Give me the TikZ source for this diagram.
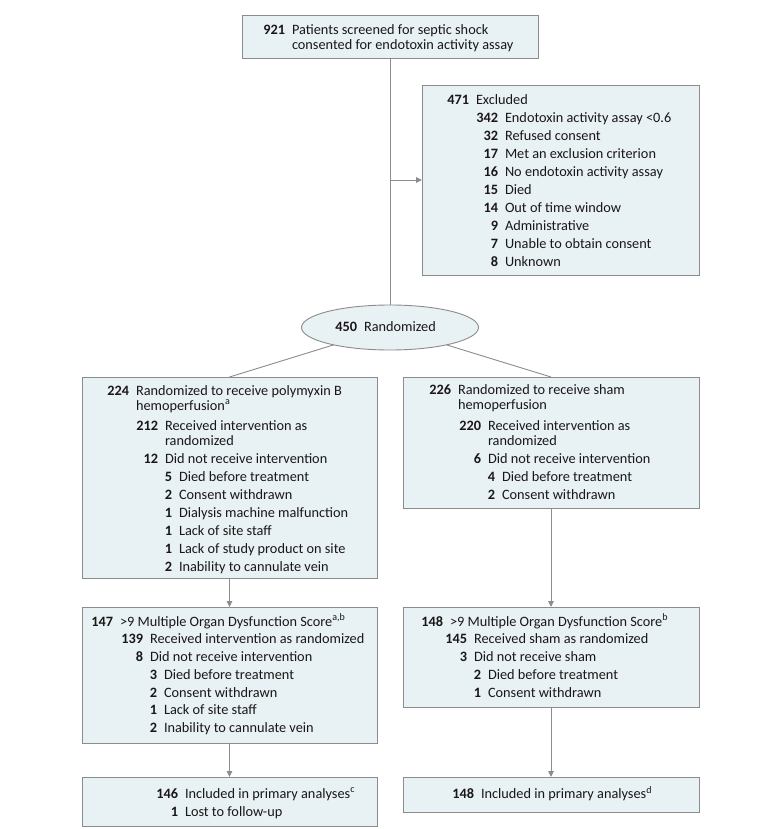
\documentclass[tikz,border=0pt]{standalone}
\usepackage{fontspec}
\setmainfont{Carlito}
\usetikzlibrary{arrows.meta,shapes.geometric}
\definecolor{boxfill}{HTML}{E8F1F4}
\definecolor{boxdraw}{HTML}{8C8C8C}
\definecolor{linec}{HTML}{8C8C8C}
\definecolor{textc}{HTML}{1A1718}
\newcommand\fsz{\fontsize{14.3pt}{17.9pt}\selectfont}
\newcommand\ent[5]{\node[txt] (#1) at (#2-31,#3) {\makebox[24pt][r]{\textbf{#4}}\hspace{7pt}#5};}
\newcommand\cont[4]{\node[txt] (#1) at (#2,#3) {#4};}
\begin{document}
\begin{tikzpicture}[x=1pt,y=-1pt,
  box/.style={draw=boxdraw, fill=boxfill, line width=0.9pt, inner sep=0pt, outer sep=0pt},
  txt/.style={inner sep=0pt, outer sep=0pt, anchor=base west, font=\fsz, text=textc},
  link/.style={draw=linec, line width=0.9pt},
  arr/.style={link, -{Triangle[length=6pt,width=5.5pt]}}]
\useasboundingbox (0,0) rectangle (780,829);
\fill[white] (0,0) rectangle (780,829);

% boxes
\node[box, minimum width=296pt, minimum height=43pt] (screen) at (390,36.5) {};
\node[box, minimum width=277pt, minimum height=190pt] (excl) at (560.5,180) {};
\node[box, ellipse, minimum width=177pt, minimum height=45pt] (rand) at (390,327.5) {};
\node[box, minimum width=295pt, minimum height=201pt] (lb1) at (229.5,477.5) {};
\node[box, minimum width=296pt, minimum height=131pt] (rb1) at (551,442.5) {};
\node[box, minimum width=295pt, minimum height=136pt] (lb2) at (229.5,675) {};
\node[box, minimum width=296pt, minimum height=100pt] (rb2) at (551,657) {};
\node[box, minimum width=295pt, minimum height=49pt] (lb3) at (229.5,801.5) {};
\node[box, minimum width=296pt, minimum height=35pt] (rb3) at (551,794.5) {};

% connectors
\draw[link] (screen.south) -- (rand.north);
\coordinate (exsplit) at (screen.south |- excl.west);
\draw[arr] (exsplit) -- (excl.west);
\draw[link] (rand) -- (lb1.north);
\draw[link] (rand) -- (rb1.north);
\draw[arr] (lb1.south) -- (lb2.north);
\draw[arr] (rb1.south) -- (rb2.north);
\draw[arr] (lb2.south) -- (lb3.north);
\draw[arr] (rb2.south) -- (rb3.north);

% top
\ent{t1}{292}{34.5}{921}{Patients screened for septic shock}
\cont{t2}{292}{50}{consented for endotoxin activity assay}

% excluded
\ent{x1}{476}{105}{471}{Excluded}
\ent{x2}{505}{122.9}{342}{Endotoxin activity assay <0.6}
\ent{x3}{505}{140.8}{32}{Refused consent}
\ent{x4}{505}{158.7}{17}{Met an exclusion criterion}
\ent{x5}{505}{176.6}{16}{No endotoxin activity assay}
\ent{x6}{505}{194.5}{15}{Died}
\ent{x7}{505}{212.4}{14}{Out of time window}
\ent{x8}{505}{230.3}{9}{Administrative}
\ent{x9}{505}{248.2}{7}{Unable to obtain consent}
\ent{x10}{505}{266.1}{8}{Unknown}

% randomized
\ent{r1}{364}{331.5}{450}{Randomized}

% left box 1
\ent{a1}{136}{395}{224}{Randomized to receive polymyxin B}
\cont{a2}{136}{410}{hemoperfusion\textsuperscript{a}}
\ent{a3}{165}{430}{212}{Received intervention as}
\cont{a4}{165}{445}{randomized}
\ent{a5}{165}{463}{12}{Did not receive intervention}
\ent{a6}{179}{481}{5}{Died before treatment}
\ent{a7}{179}{499}{2}{Consent withdrawn}
\ent{a8}{179}{517}{1}{Dialysis machine malfunction}
\ent{a9}{179}{535}{1}{Lack of site staff}
\ent{a10}{179}{553}{1}{Lack of study product on site}
\ent{a11}{179}{571}{2}{Inability to cannulate vein}

% right box 1
\ent{b1}{458}{394.5}{226}{Randomized to receive sham}
\cont{b2}{458}{409.5}{hemoperfusion}
\ent{b3}{488}{430}{220}{Received intervention as}
\cont{b4}{488}{445}{randomized}
\ent{b5}{488}{463}{6}{Did not receive intervention}
\ent{b6}{502}{481}{4}{Died before treatment}
\ent{b7}{502}{499}{2}{Consent withdrawn}

% left box 2
\ent{c1}{120}{626}{147}{>9 Multiple Organ Dysfunction Score\textsuperscript{a,b}}
\ent{c2}{150}{643.5}{139}{Received intervention as randomized}
\ent{c3}{150}{661}{8}{Did not receive intervention}
\ent{c4}{164}{679}{3}{Died before treatment}
\ent{c5}{164}{697}{2}{Consent withdrawn}
\ent{c6}{164}{714.5}{1}{Lack of site staff}
\ent{c7}{164}{732}{2}{Inability to cannulate vein}

% right box 2
\ent{d1}{450}{626}{148}{>9 Multiple Organ Dysfunction Score\textsuperscript{b}}
\ent{d2}{474}{643.5}{145}{Received sham as randomized}
\ent{d3}{474}{661.5}{3}{Did not receive sham}
\ent{d4}{488}{679}{2}{Died before treatment}
\ent{d5}{488}{697}{1}{Consent withdrawn}

% bottom boxes
\ent{e1}{185}{798}{146}{Included in primary analyses\textsuperscript{c}}
\ent{e2}{185}{816}{1}{Lost to follow-up}
\ent{f1}{481}{798.5}{148}{Included in primary analyses\textsuperscript{d}}
\end{tikzpicture}
\end{document}
